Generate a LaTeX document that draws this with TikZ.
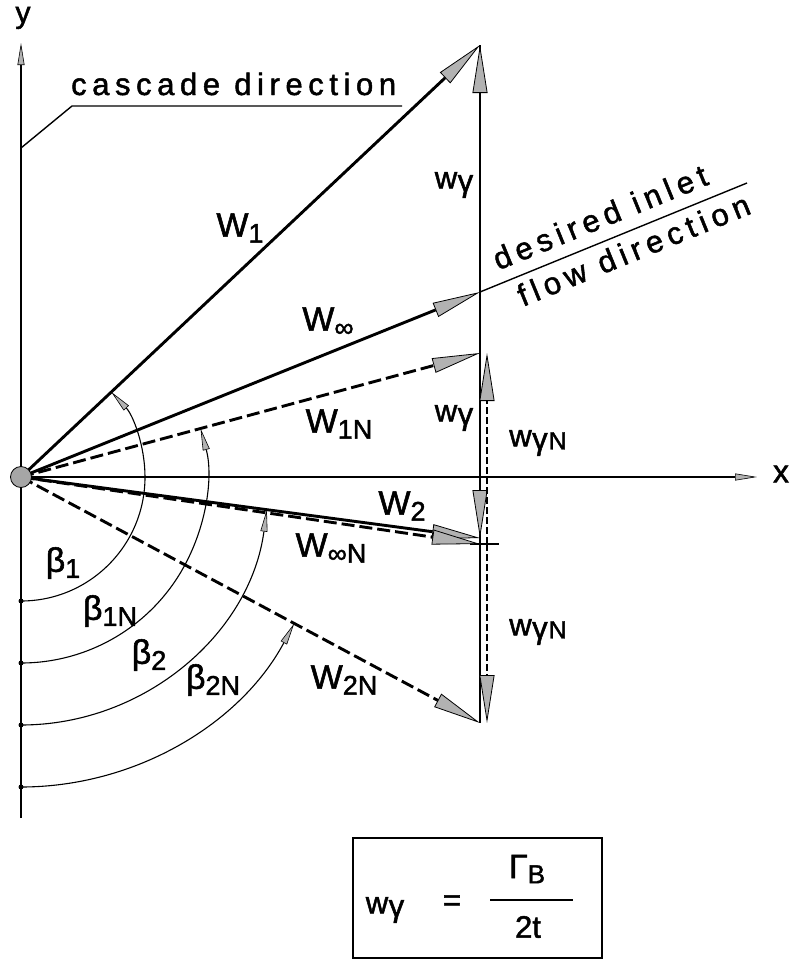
\documentclass[tikz,border=0pt]{standalone}
\usepackage{fontspec}
\setmainfont{Liberation Sans}[FakeBold=1.6]
\newfontfamily\lab[LetterSpace=18,FakeBold=1.6]{Liberation Sans}
\usetikzlibrary{arrows.meta,calc}
\newcommand\sbx[1]{\raisebox{-6pt}{\fontsize{27}{30}\selectfont #1}}
\newcommand\wgam{w\kern0.5pt\raisebox{-3pt}{γ}}
\newcommand\wgamN{w\kern0.5pt\raisebox{-3pt}{γ\kern1pt\fontsize{25}{28}\selectfont N}}
\begin{document}
\begin{tikzpicture}[x=1pt,y=1pt,
  every node/.style={inner sep=0pt},
  tipbig/.tip={Triangle[length=48pt,width=15pt,fill=gray!60,line width=0.8pt]},
  tipsmall/.tip={Triangle[length=22pt,width=7pt,fill=gray!60,line width=0.6pt]},
  vecs/.style={line width=2.9pt,-tipbig},
  vecd/.style={vecs,dash pattern=on 13pt off 5pt},
  comp/.style={line width=1.7pt,-tipbig},
  compd/.style={line width=2.4pt,dash pattern=on 7pt off 3pt,-tipbig},
  axisst/.style={line width=1.4pt,-tipsmall},
  thinst/.style={line width=1.4pt},
  arcst/.style={line width=1.1pt,-tipsmall},
  ydot/.style={circle,fill=black,minimum size=5pt},
  odot/.style={circle,draw=black,fill=gray!70,line width=0.8pt,minimum size=21pt},
  lbl/.style={font=\fontsize{34}{40}\selectfont},
  lbls/.style={font=\fontsize{31}{36}\selectfont},
  txt/.style={font=\lab\fontsize{31}{36}\selectfont},
  ftx/.style={font=\fontsize{31}{36}\selectfont},
]
\path[use as bounding box] (0,0) rectangle (791,-961);
% key points
\coordinate (O) at (21,-477);
\coordinate (A1) at (480,-45);
\coordinate (Ainf) at (480,-292);
\coordinate (A1N) at (480,-353);
\coordinate (A2) at (480,-538);
\coordinate (AinfN) at (480,-544);
\coordinate (A2N) at (480,-723);
\coordinate (B1N) at (487,-353);
\coordinate (BinfN) at (487,-544);
\coordinate (B2N) at (487,-723);
\coordinate (Ytop) at (21,-43);
\coordinate (Ybot) at (21,-818);
\coordinate (Xend) at (757,-477);
\coordinate (D) at (747,-183);
\coordinate (C1) at (21,-148);
\coordinate (C2) at (72,-106);
\coordinate (C3) at (402,-106);
\coordinate (T1) at (470,-544);
\coordinate (T2) at (499,-544);
\coordinate (R1) at (21,-601);
\coordinate (R2) at (21,-663);
\coordinate (R3) at (21,-725);
\coordinate (R4) at (21,-787);
% axes
\draw[axisst] (Ybot) -- (Ytop);
\draw[axisst] (O) -- (Xend);
% cascade direction leader
\draw[thinst] (C1) -- (C2) -- (C3);
\node[txt,anchor=base west] (casc) at (71,-95) {cascade direction};
% desired inlet flow direction line
\draw[thinst] (Ainf) -- (D);
\node[txt,anchor=base west,rotate=22.2,align=left] (des) at (514.5,-310.3)
  {desired inlet\\[7pt]\hspace*{9pt}flow direction};
% vertical line
\draw[thinst] (A1) -- (A2N);
\draw[thinst] (T1) -- (T2);
% arcs
\draw[arcst] (R1) arc[start angle=-90,end angle=43.26,radius=124];
\draw[arcst] (R2) arc[start angle=-90,end angle=15.12,radius=186];
\draw[arcst] (R3) arc[start angle=-90,end angle=-7.57,radius=248];
\draw[arcst] (R4) arc[start angle=-90,end angle=-28.19,radius=310];
\foreach \r in {R1,R2,R3,R4} \node[ydot] at (\r) {};
% vectors
\draw[vecs] (O) -- (A1);
\draw[vecs] (O) -- (Ainf);
\draw[vecd] (O) -- (A1N);
\draw[vecs] (O) -- (A2);
\draw[vecd] (O) -- (AinfN);
\draw[vecd] (O) -- (A2N);
% components
\draw[comp] (Ainf) -- (A1);
\draw[comp] (Ainf) -- (A2);
\draw[compd] (BinfN) -- (B1N);
\draw[compd] (BinfN) -- (B2N);
\node[odot] (odotn) at (O) {};
% labels
\node[font=\fontsize{30}{30}\selectfont] (ylab) at (23,-18) {y};
\node[font=\fontsize{32}{32}\selectfont] (xlab) at (781,-474) {x};
\node[lbl] (lW1) at (240,-228) {W\sbx{1}};
\node[lbl] (lWinf) at (328,-322) {W\sbx{∞}};
\node[lbl] (lW1N) at (339,-424) {W\sbx{1N}};
\node[lbl] (lW2) at (402,-506) {W\sbx{2}};
\node[lbl] (lWinfN) at (331,-548) {W\sbx{∞N}};
\node[lbl] (lW2N) at (344,-680) {W\sbx{2N}};
\node[lbls] (lwg1) at (454,-185) {\wgam};
\node[lbls] (lwg2) at (454,-418) {\wgam};
\node[lbls] (lwgN1) at (538,-443) {\wgamN};
\node[lbls] (lwgN2) at (538,-632) {\wgamN};
\node[lbl] (lb1) at (63,-563) {β\sbx{1}};
\node[lbl] (lb1N) at (110,-611) {β\sbx{1N}};
\node[lbl] (lb2) at (149,-655) {β\sbx{2}};
\node[lbl] (lb2N) at (213,-680) {β\sbx{2N}};
% formula box
\node[draw,line width=1.3pt,minimum width=249pt,minimum height=120pt] (box) at (477.5,-898) {};
\node[ftx] (fw) at (385,-910) {\wgam};
\node[ftx] (feq) at (452,-903) {=};
\node[ftx] (fnum) at (527,-869) {{\fontsize{34}{36}\selectfont Γ}\raisebox{-5pt}{\fontsize{26}{28}\selectfont B}};
\coordinate (FB1) at (490,-900);
\coordinate (FB2) at (573,-900);
\draw[line width=1.3pt] (FB1) -- (FB2);
\node[ftx] (fden) at (528,-927) {2t};
\end{tikzpicture}
\end{document}
